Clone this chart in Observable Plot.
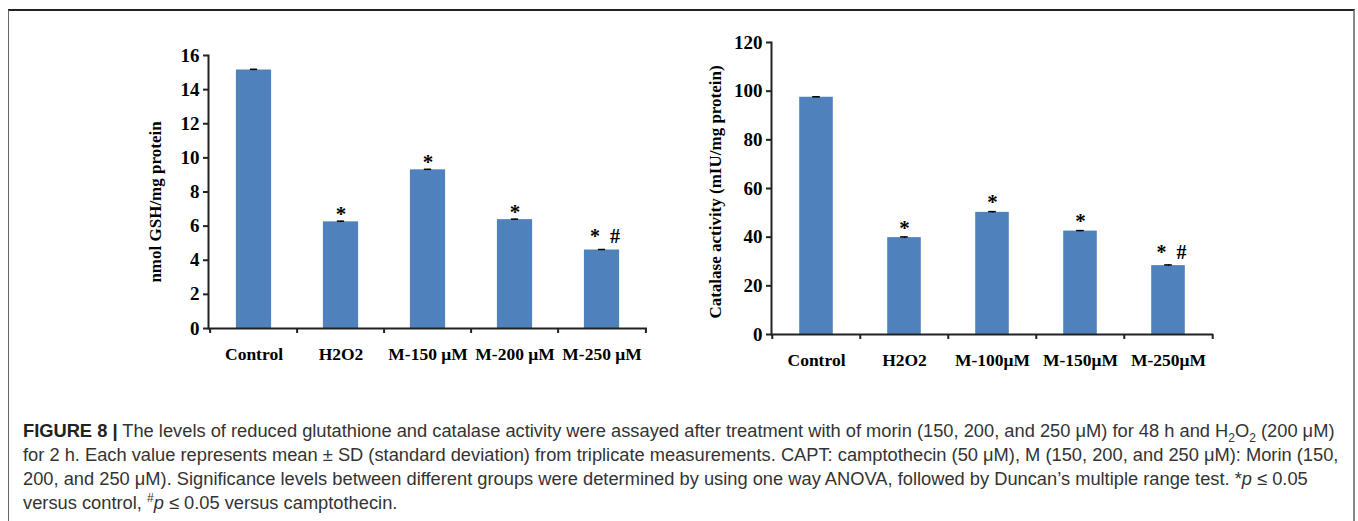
<!DOCTYPE html>
<html>
<head>
<meta charset="utf-8">
<script src="https://cdn.jsdelivr.net/npm/d3@7"></script>
<script src="https://cdn.jsdelivr.net/npm/@observablehq/plot@0.6"></script>
<style>
  html, body { margin: 0; padding: 0; background: #fff; }
  body { width: 1358px; height: 521px; position: relative; overflow: hidden; }
  #frame { position: absolute; left: 8px; top: 9px; width: 1347px; height: 560px;
           border-left: 1px solid #666; border-top: 2px solid #222; border-right: 2px solid #888;
           box-sizing: border-box; }
  #left { position: absolute; left: 140px; top: 40px; }
  #right { position: absolute; left: 700px; top: 30px; }
  #cap { position: absolute; left: 23px; top: 419px; font-family: "Liberation Sans", Arial, sans-serif;
         font-size: 18.3px; line-height: 24px; color: #333; white-space: nowrap; }
  #cap b { font-weight: bold; color: #222; }
  #cap sub, #cap sup { font-size: 12px; line-height: 0; }
</style>
</head>
<body>
<div id="frame"></div>
<div id="left"></div>
<div id="right"></div>
<div id="cap">
  <div><b>FIGURE 8 |</b> The levels of reduced glutathione and catalase activity were assayed after treatment with of morin (150, 200, and 250 μM) for 48 h and H<sub>2</sub>O<sub>2</sub> (200 μM)</div>
  <div>for 2 h. Each value represents mean ± SD (standard deviation) from triplicate measurements. CAPT: camptothecin (50 μM), M (150, 200, and 250 μM): Morin (150,</div>
  <div>200, and 250 μM). Significance levels between different groups were determined by using one way ANOVA, followed by Duncan’s multiple range test. *<i>p</i> ≤ 0.05</div>
  <div>versus control, <sup>#</sup><i>p</i> ≤ 0.05 versus camptothecin.</div>
</div>
<script>
// ---- Data: left panel (reduced glutathione) ----
const gshCategories = ["Control", "H2O2", "M-150 μM", "M-200 μM", "M-250 μM"];
const gshMeans = [15.15, 6.25, 9.3, 6.38, 4.6];
const gshSD = [0.04, 0.04, 0.03, 0.03, 0.03];
const gshMarks = ["", "*", "*", "*", "*\u00a0\u00a0#"];
const gshTicks = [0, 2, 4, 6, 8, 10, 12, 14, 16];
const gshLabel = "nmol GSH/mg protein";

// ---- Data: right panel (catalase activity) ----
const catCategories = ["Control", "H2O2", "M-100μM", "M-150μM", "M-250μM"];
const catMeans = [97.5, 39.8, 50.2, 42.5, 28.3];
const catSD = [0.2, 0.3, 0.3, 0.2, 0.3];
const catMarks = ["", "*", "*", "*", "*\u00a0\u00a0#"];
const catTicks = [0, 20, 40, 60, 80, 100, 120];
const catLabel = "Catalase activity (mIU/mg protein)";

const SERIF = "'Liberation Serif', 'Times New Roman', serif";
const BAR = "#4F81BD";

function panel(cats, means, sds, marks, ticks, label, o) {
  const data = cats.map((c, i) => ({c, v: means[i], sd: sds[i], m: marks[i]}));
  const bw = (o.width - o.ml - o.mr) / cats.length;
  const inset = (bw - o.barW) / 2;
  const capInset = (bw - 8) / 2;
  return Plot.plot({
    width: o.width, height: o.height,
    marginLeft: o.ml, marginRight: o.mr, marginTop: o.mt, marginBottom: o.mb,
    style: {fontFamily: SERIF, fontWeight: "bold", color: "#000", background: "transparent"},
    x: {domain: cats, padding: 0, axis: null},
    y: {domain: [0, ticks[ticks.length - 1]], axis: null},
    marks: [
      Plot.barY(data, {x: "c", y: "v", fill: BAR, insetLeft: inset, insetRight: inset}),
      Plot.ruleX(data, {x: "c", y1: d => d.v - d.sd, y2: d => d.v + d.sd, stroke: "#000"}),
      Plot.tickY(data, {x: "c", y: d => d.v + d.sd, insetLeft: capInset, insetRight: capInset, stroke: "#000", strokeWidth: 1.5}),
      Plot.text(data.filter(d => d.m === "*"), {x: "c", y: d => d.v + d.sd, text: "m", lineAnchor: "middle", dy: o.starDy, fontSize: 21, fontFamily: SERIF, fontWeight: "bold"}),
      Plot.text(data.filter(d => d.m.length > 1), {x: "c", y: d => d.v + d.sd, text: "m", lineAnchor: "middle", dy: o.hashDy, dx: 3, fontSize: 20, fontFamily: SERIF, fontWeight: "bold"}),
      Plot.ruleY([0], {stroke: "#222", strokeWidth: 2}),
      Plot.frame({anchor: "left", stroke: "#222", strokeWidth: 2}),
      Plot.axisY({ticks, tickSize: 5, tickPadding: 4, strokeWidth: 2, stroke: "#222", label: null, fontSize: 19, fontFamily: SERIF, fontWeight: "bold"}),
      Plot.axisX({tickSize: 0, tickPadding: o.xPad, label: null, fontSize: 17.5, fontFamily: SERIF, fontWeight: "bold"}),
      Plot.axisX({tickSize: 5, tickFormat: () => "", dx: -bw / 2, label: null, strokeWidth: 2, stroke: "#222"}),
      Plot.axisX({ticks: [cats[cats.length - 1]], tickSize: 5, tickFormat: () => "", dx: bw / 2, label: null, strokeWidth: 2, stroke: "#222"}),
      Plot.text([label], {text: d => d, frameAnchor: "left", rotate: -90, lineAnchor: "top", textAnchor: "middle",
                          dx: o.labelDx, dy: o.labelDy, fontSize: 17, fontFamily: SERIF, fontWeight: "bold"})
    ]
  });
}

document.getElementById("left").append(
  panel(gshCategories, gshMeans, gshSD, gshMarks, gshTicks, gshLabel,
        {width: 540, height: 340, ml: 68, mr: 33, mt: 15, mb: 52, barW: 36, xPad: 19,
         starDy: -7, hashDy: -13, labelDx: -60, labelDy: 10})
);
document.getElementById("right").append(
  panel(catCategories, catMeans, catSD, catMarks, catTicks, catLabel,
        {width: 520, height: 350, ml: 71, mr: 7, mt: 12, mb: 46, barW: 34, xPad: 19,
         starDy: -9, hashDy: -12, labelDx: -63, labelDy: 3.5})
);
</script>
</body>
</html>
